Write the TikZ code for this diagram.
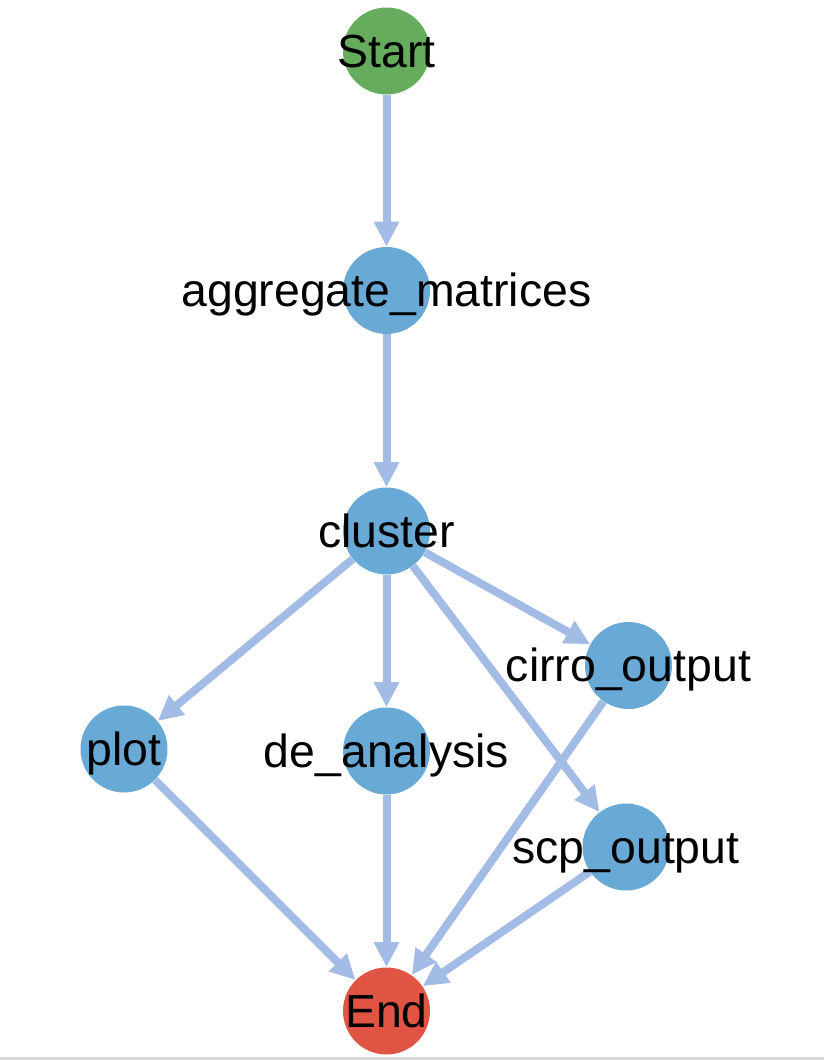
\documentclass[tikz,border=0pt]{standalone}
\usepackage{fontspec}
\setmainfont{Liberation Sans}
\usetikzlibrary{arrows.meta,backgrounds}

\definecolor{flowblue}{HTML}{A3BCE6}
\definecolor{taskblue}{HTML}{68AAD5}
\definecolor{startgreen}{HTML}{65AD5C}
\definecolor{endred}{HTML}{E05443}

\tikzset{
	task/.style={circle, fill=taskblue, minimum size=43.5pt, inner sep=0pt},
	tasktext/.style={font=\fontsize{23.2pt}{26pt}\selectfont, text height=16pt, text depth=0pt, inner sep=0pt},
	flow/.style={draw=flowblue, line width=4pt, -{Triangle[length=12.5pt,width=12pt]}}
}

\begin{document}
\begin{tikzpicture}[x=0.5pt, y=-0.5pt]
	\useasboundingbox (0,0) rectangle (824,1060);
	
	% Start and End
	\node (start) at (386.5,51) [task, fill=startgreen, label={[tasktext]center:Start}] {};
	\node (end) at (386.5,1011) [task, fill=endred, label={[tasktext]center:End}] {};
	
	% Tasks
	\foreach \name/\x/\y/\txt in {aggregate/386.5/290.5/aggregate\_matrices, cluster/386.5/531/cluster, cirro/628.5/665.5/cirro\_output, plot/124/749/plot, de/386.5/751/de\_analysis, scp/626/847/scp\_output}{
		\node (\name) at (\x,\y) [task, label={[tasktext]center:\txt}] {};
	}
	
	% Flows
	\begin{scope}[on background layer]
		\foreach \a/\b in {start/aggregate, aggregate/cluster, cluster/plot, cluster/de, cluster/cirro, cluster/scp, plot/end, de/end, cirro/end, scp/end}{
			\draw [flow] (\a) -- (\b);
		}
	\end{scope}
	
	% bottom rule
	\draw [black!15, line width=1.25pt] (0,1058.7) -- (824,1058.7);
	
\end{tikzpicture}
\end{document}
